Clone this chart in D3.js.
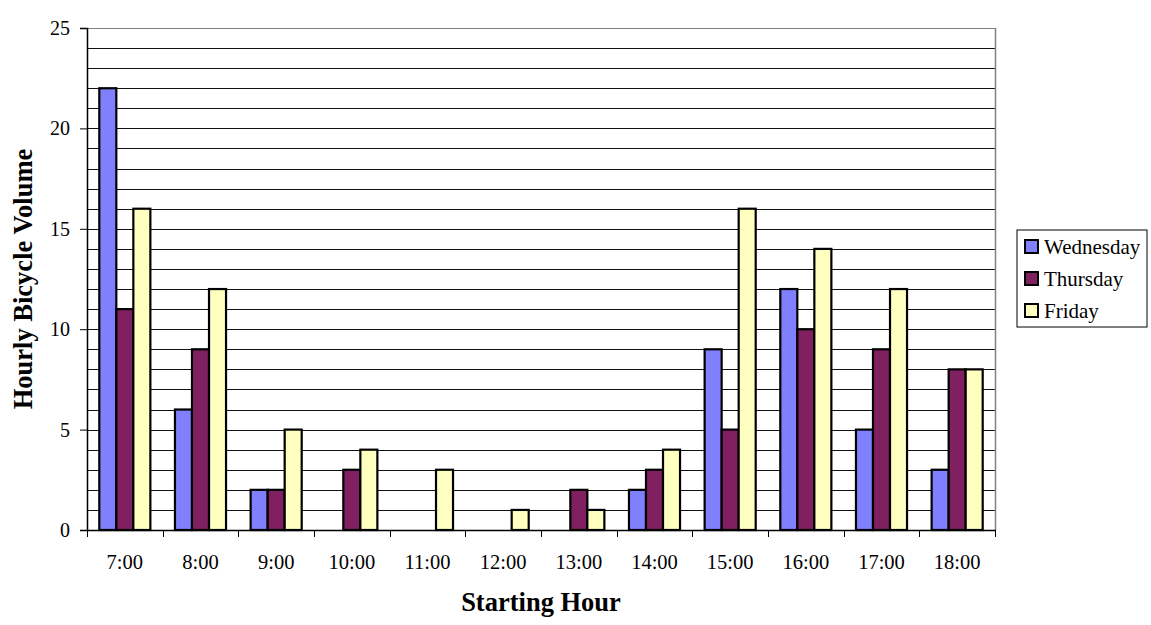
<!DOCTYPE html>
<html>
<head>
<meta charset="utf-8">
<script src="https://cdn.jsdelivr.net/npm/d3@7"></script>
<style>
  body { margin: 0; background: #fff; }
  text { font-family: "Liberation Serif", "Times New Roman", serif; fill: #000; }
</style>
</head>
<body>
<div id="chart"></div>
<script>
// hours along the x axis
var hours = ["7:00", "8:00", "9:00", "10:00", "11:00", "12:00", "13:00", "14:00", "15:00", "16:00", "17:00", "18:00"];
var days = ["Wednesday", "Thursday", "Friday"];
// hourly counts
var wednesday = [22, 6, 2, 0, 0, 0, 0, 2, 9, 12, 5, 3];
var thursday = [11, 9, 2, 3, 0, 0, 2, 3, 5, 10, 9, 8];
var friday = [16, 12, 5, 4, 3, 1, 1, 4, 16, 14, 12, 8];
var yTicks = [0, 5, 10, 15, 20, 25];

var colors = ["#8080ff", "#802060", "#ffffc0"];
var series = [wednesday, thursday, friday];

var w = 1151, h = 625;
// plot area edges (note: "top" is taken by window.top)
var pLeft = 87, pRight = 995, pTop = 28, pBottom = 530;

var svg = d3.select("#chart")
    .append("svg")
    .attr("width", w)
    .attr("height", h);

var x = d3.scaleBand().domain(hours).range([pLeft, pRight]).paddingInner(0).paddingOuter(0);
var xSub = d3.scaleBand().domain(days).range([12.3, x.bandwidth() - 12.3]);
var y = d3.scaleLinear().domain([0, 25]).range([pBottom, pTop]);

// gridlines every unit
svg.append("g")
    .selectAll("line")
    .data(d3.range(1, 26))
    .enter()
    .append("line")
    .attr("x1", pLeft)
    .attr("x2", pRight)
    .attr("y1", function (d) { return Math.round(y(d)) + 0.5; })
    .attr("y2", function (d) { return Math.round(y(d)) + 0.5; })
    .style("stroke", function (d) { return d == 25 ? "#808080" : "#111"; })
    .style("stroke-width", 1);

// right border of plot area
svg.append("line")
    .attr("x1", pRight + 0.5).attr("x2", pRight + 0.5)
    .attr("y1", pTop).attr("y2", pBottom)
    .style("stroke", "#808080")
    .style("stroke-width", 1.5);

// bars
var groups = svg.append("g")
    .selectAll("g")
    .data(series)
    .enter()
    .append("g")
    .style("fill", function (d, i) { return colors[i]; });

groups.each(function (vals, i) {
    d3.select(this).selectAll("rect")
        .data(vals.map(function (v, j) { return { hour: hours[j], value: v }; }).filter(function (d) { return d.value > 0; }))
        .enter()
        .append("rect")
        .attr("x", function (d) { return x(d.hour) + xSub(days[i]); })
        .attr("width", xSub.bandwidth())
        .attr("y", function (d) { return y(d.value); })
        .attr("height", function (d) { return y(0) - y(d.value); })
        .style("stroke", "#000")
        .style("stroke-width", 2.2);
});

// y axis
var yAxis = d3.axisLeft(y).tickValues(yTicks).tickSize(7).tickPadding(10).tickFormat(d3.format("d"));
var gy = svg.append("g")
    .attr("transform", "translate(" + pLeft + ",0)")
    .call(yAxis);
gy.select(".domain").style("stroke", "#000").style("stroke-width", 1.5);
gy.selectAll(".tick line").style("stroke", "#000");
gy.selectAll("text").style("font-size", "20px").style("font-family", "Liberation Serif");

// x axis: ticks sit on category boundaries
var xAxis = d3.axisBottom(x).tickSize(0).tickPadding(24);
var gx = svg.append("g")
    .attr("transform", "translate(0," + pBottom + ")")
    .call(xAxis);
gx.select(".domain").remove();
gx.selectAll("text").style("font-size", "20.5px").style("font-family", "Liberation Serif");

svg.append("line")
    .attr("x1", pLeft).attr("x2", pRight + 1)
    .attr("y1", pBottom + 0.5).attr("y2", pBottom + 0.5)
    .style("stroke", "#000")
    .style("stroke-width", 1.5);

svg.append("g")
    .selectAll("line")
    .data(hours.concat(["end"]))
    .enter()
    .append("line")
    .attr("x1", function (d, i) { return Math.round(pLeft + i * x.bandwidth()) + 0.5; })
    .attr("x2", function (d, i) { return Math.round(pLeft + i * x.bandwidth()) + 0.5; })
    .attr("y1", pBottom)
    .attr("y2", pBottom + 7)
    .style("stroke", "#000");

// axis titles
svg.append("text")
    .attr("transform", "translate(32," + (pTop + pBottom) / 2 + ") rotate(-90)")
    .attr("text-anchor", "middle")
    .style("font-size", "26.5px")
    .style("font-weight", "bold")
    .text("Hourly Bicycle Volume");

svg.append("text")
    .attr("x", (pLeft + pRight) / 2)
    .attr("y", 611)
    .attr("text-anchor", "middle")
    .style("font-size", "26.5px")
    .style("font-weight", "bold")
    .text("Starting Hour");

// legend
var legend = svg.append("g").attr("transform", "translate(1017,230)");
legend.append("rect")
    .attr("width", 130)
    .attr("height", 97)
    .style("fill", "#fff")
    .style("stroke", "#000")
    .style("stroke-width", 1);

var items = legend.selectAll("g.item")
    .data(days)
    .enter()
    .append("g")
    .attr("class", "item")
    .attr("transform", function (d, i) { return "translate(8," + (10 + i * 32) + ")"; });

items.append("rect")
    .attr("width", 13)
    .attr("height", 13)
    .style("fill", function (d, i) { return colors[i]; })
    .style("stroke", "#000")
    .style("stroke-width", 2);

items.append("text")
    .attr("x", 19)
    .attr("y", 14)
    .style("font-size", "21px")
    .text(function (d) { return d; });
</script>
</body>
</html>
